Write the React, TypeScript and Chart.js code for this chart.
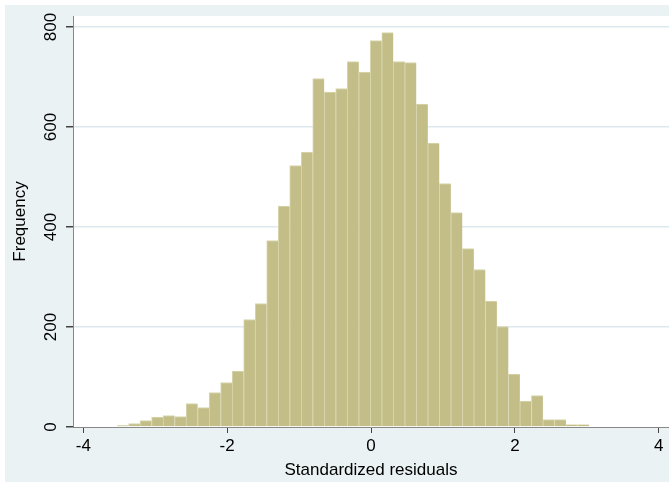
import React, { useEffect, useRef } from 'react';
import { Chart, registerables } from 'chart.js';

Chart.register(...registerables);

// ---- data ----
const BIN_START = -3.53;
const BIN_WIDTH = 0.16;
const counts = [
  3, 7, 13, 20, 23, 21, 47, 39, 69, 89,
  112, 215, 247, 373, 442, 523, 550, 697, 670, 677,
  731, 710, 773, 789, 731, 729, 646, 568, 487, 429,
  357, 315, 252, 201, 106, 52, 63, 15, 15, 5,
  5,
];
const xTicks = [-4, -2, 0, 2, 4];
const yTicks = [0, 200, 400, 600, 800];
const xTitle = 'Standardized residuals';
const yTitle = 'Frequency';

const FONT = { family: "'Liberation Sans', Arial, sans-serif", size: 17 };
const OUTER_BG = '#EAF2F3';

const bgPlugin = {
  id: 'bgPlugin',
  beforeDraw(chart: any) {
    const { ctx, chartArea, width, height } = chart;
    ctx.save();
    ctx.fillStyle = '#ffffff';
    ctx.fillRect(0, 0, width, height);
    ctx.fillStyle = OUTER_BG;
    ctx.fillRect(5, 5, width - 5, height - 8);
    ctx.fillStyle = '#ffffff';
    ctx.fillRect(chartArea.left, chartArea.top, chartArea.right - chartArea.left, chartArea.bottom - chartArea.top);
    ctx.restore();
  },
};

export default function App() {
  const ref = useRef<HTMLCanvasElement | null>(null);
  useEffect(() => {
    document.body.style.margin = '0';
    if (!ref.current) return;
    const chart = new Chart(ref.current, {
      type: 'bar',
      data: {
        datasets: [
          {
            data: counts.map((c, i) => ({ x: BIN_START + BIN_WIDTH * (i + 0.5), y: c })),
            backgroundColor: '#C3BE88',
            borderColor: '#D9D6AE',
            borderWidth: { top: 1, left: 1, right: 0, bottom: 0 },
            borderSkipped: false,
            barPercentage: 1,
            categoryPercentage: 1,
          } as any,
        ],
      },
      options: {
        responsive: false,
        animation: false,
        devicePixelRatio: 1,
        layout: { padding: { top: 16, right: 0, left: 0, bottom: 0 } },
        plugins: { legend: { display: false }, tooltip: { enabled: false } },
        scales: {
          x: {
            type: 'linear',
            offset: false,
            min: -4.143,
            max: 4.143,
            afterBuildTicks: (s: any) => {
              s.ticks = xTicks.map((v) => ({ value: v }));
            },
            afterFit: (s: any) => {
              s.height = 58;
            },
            grid: { offset: false, drawOnChartArea: false, tickLength: 6, tickColor: '#444', lineWidth: 1 },
            border: { display: true, color: '#888', width: 1 },
            ticks: { font: FONT, color: '#000', padding: 3, maxRotation: 0, autoSkip: false },
            title: { display: true, text: xTitle, font: FONT, color: '#000', padding: { top: 0, bottom: 4 } },
          },
          y: {
            type: 'linear',
            min: 0,
            max: 822,
            afterBuildTicks: (s: any) => {
              s.ticks = yTicks.map((v) => ({ value: v }));
            },
            afterFit: (s: any) => {
              s.width = 73;
            },
            grid: {
              color: (ctx: any) => (ctx.tick && ctx.tick.value === 0 ? 'rgba(0,0,0,0)' : '#DDE9EC'),
              lineWidth: 1.5,
              tickLength: 7,
              tickColor: '#444',
            },
            border: { display: true, color: '#888', width: 1 },
            ticks: {
              font: FONT,
              color: '#000',
              padding: 1,
              minRotation: 90,
              maxRotation: 90,
              crossAlign: 'center',
              autoSkip: false,
            },
            title: { display: true, text: yTitle, font: FONT, color: '#000', padding: { top: 10, bottom: 0 } },
          },
        },
      } as any,
      plugins: [bgPlugin],
    });
    return () => chart.destroy();
  }, []);
  return (
    <div style={{ width: 669, height: 485 }}>
      <canvas ref={ref} width={669} height={485} style={{ display: 'block' }} />
    </div>
  );
}
